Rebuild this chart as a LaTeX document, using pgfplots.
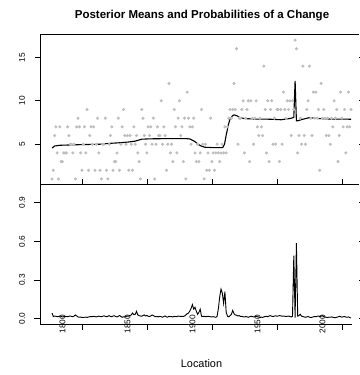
\documentclass[border=0pt]{standalone}
\usepackage{pgfplots}
\pgfplotsset{compat=1.18}
\usepackage{fontspec}
\setmainfont{Liberation Sans}
\definecolor{dotgray}{RGB}{190,190,190}

\newcommand{\ticklabfont}{\fontsize{8.3}{9}\selectfont}

\begin{document}
\begin{tikzpicture}[x=1pt,y=1pt]

% ---------- upper panel: counts and posterior means ----------
\begin{axis}[
  at={(40pt,190.5pt)}, anchor=south west,
  scale only axis, width=319pt, height=150pt,
  xmin=1782.77, xmax=2028.15, ymin=0.36, ymax=17.64,
  axis line style={draw=none},
  xtick=\empty,
  ytick={5,10,15}, yticklabels={},
  tick align=outside, major tick length=5pt,
  ytick style={black, line width=0.7pt},
  clip=false,
]
\addplot[only marks, mark=*, mark size=1.35pt, color=dotgray, mark options={draw=none, fill=dotgray}]
coordinates {
(1792,1)(1793,2)(1794,6)(1795,7)(1796,4)(1797,1)(1798,7)(1799,3)(1800,3)(1801,4)
(1802,4)(1803,4)(1804,7)(1805,6)(1806,5)(1807,5)(1808,4)(1809,5)(1810,1)(1811,7)
(1812,8)(1813,7)(1814,4)(1815,2)(1816,5)(1817,7)(1818,4)(1819,9)(1820,2)(1821,6)
(1822,7)(1823,5)(1824,7)(1825,2)(1826,5)(1827,8)(1828,4)(1829,2)(1830,1)(1831,5)
(1832,5)(1833,8)(1834,2)(1835,1)(1836,5)(1837,6)(1838,7)(1839,2)(1840,3)(1841,3)
(1842,4)(1843,8)(1844,2)(1845,5)(1846,7)(1847,9)(1848,6)(1849,5)(1850,6)(1851,2)
(1852,6)(1853,5)(1854,2)(1855,7)(1856,5)(1857,6)(1858,4)(1859,3)(1860,1)(1861,9)
(1862,8)(1863,6)(1864,5)(1865,4)(1866,7)(1867,6)(1868,7)(1869,5)(1870,8)(1871,1)
(1872,5)(1873,7)(1874,6)(1875,6)(1876,10)(1877,5)(1878,7)(1879,6)(1880,2)(1881,5)
(1882,12)(1883,4)(1884,5)(1885,3)(1886,9)(1887,7)(1888,4)(1889,8)(1890,10)(1891,6)
(1892,7)(1893,3)(1894,8)(1895,1)(1896,11)(1897,8)(1898,7)(1899,5)(1900,7)(1901,8)
(1902,4)(1903,3)(1904,5)(1905,3)(1906,4)(1907,9)(1908,5)(1909,1)(1910,5)(1911,2)
(1912,4)(1913,2)(1914,8)(1915,3)(1916,4)(1917,2)(1918,4)(1919,5)(1920,4)(1921,3)
(1922,4)(1923,5)(1924,4)(1925,7)(1926,4)(1927,7)(1928,8)(1929,9)(1930,8)(1931,9)
(1932,12)(1933,9)(1934,16)(1935,5)(1936,8)(1937,8)(1938,9)(1939,10)(1940,4)(1941,8)
(1942,9)(1943,10)(1944,3)(1945,10)(1946,8)(1947,5)(1948,8)(1949,10)(1950,7)(1951,6)
(1952,8)(1953,7)(1954,6)(1955,14)(1956,9)(1957,4)(1958,10)(1959,3)(1960,9)(1961,10)
(1962,5)(1963,8)(1964,5)(1965,9)(1966,9)(1967,3)(1968,9)(1969,5)(1970,11)(1971,9)
(1972,8)(1973,10)(1974,9)(1975,10)(1976,6)(1977,10)(1978,9)(1979,17)(1980,16)(1981,4)
(1982,6)(1983,8)(1984,5)(1985,14)(1986,6)(1987,5)(1988,9)(1989,10)(1990,14)(1991,8)
(1992,6)(1993,11)(1994,8)(1995,11)(1996,8)(1997,9)(1998,2)(1999,12)(2000,8)(2001,9)
(2002,8)(2003,6)(2004,8)(2005,6)(2006,5)(2007,8)(2008,7)(2009,10)(2010,8)(2011,9)
(2012,3)(2013,6)(2014,11)(2015,8)(2016,7)(2017,9)(2018,4)(2019,7)(2020,11)(2021,7)
(2022,9)
};
\addplot[black, line width=1.1pt] coordinates {
(1792,4.56)(1794.1,4.8)(1798.2,4.88)(1813.5,4.95)(1828.9,5.0)(1836.6,5.1)
(1845.3,5.18)(1850.5,5.25)(1855.8,5.35)(1861.2,5.58)(1867.4,5.62)(1882.8,5.65)
(1895.1,5.65)(1898.2,5.6)(1902,5.3)(1904.3,5.0)(1906.6,4.8)(1909.7,4.65)
(1917.4,4.6)(1923.3,4.6)(1924.7,5.0)(1925.8,5.9)(1927.6,7.2)(1928.9,7.9)
(1930.7,8.26)(1932,8.38)(1934.3,8.28)(1936.6,8.05)(1940.5,7.95)(1948.2,7.9)
(1959.7,7.88)(1968.2,7.82)(1975.8,7.98)(1978,8.1)(1979,12.3)(1980,7.7)
(1981,7.7)(1984.3,7.85)(1989.7,8.05)(1998.2,7.95)(2005.8,7.9)(2022,7.88)
};
\draw[line width=0.9pt] (rel axis cs:0,0) -- (rel axis cs:0,1) -- (rel axis cs:1,1);
\draw[line width=0.9pt] (rel axis cs:0,0) -- (rel axis cs:1,0);
\node[rotate=90, inner sep=0pt, font=\ticklabfont] at ([xshift=-18pt]axis cs:1782.77,5) {5};
\node[rotate=90, inner sep=0pt, font=\ticklabfont] at ([xshift=-18pt]axis cs:1782.77,10) {10};
\node[rotate=90, inner sep=0pt, font=\ticklabfont] at ([xshift=-18pt]axis cs:1782.77,15) {15};
\end{axis}

% ---------- lower panel: posterior probability of a change ----------
\begin{axis}[
  at={(40pt,51pt)}, anchor=south west,
  scale only axis, width=319pt, height=139.5pt,
  xmin=1782.77, xmax=2028.15, ymin=-0.04, ymax=1.04,
  axis line style={draw=none},
  xtick={1815.5,1865.5,1915.5,1965.5,2015.5}, xticklabels={},
  ytick={0,0.3,0.6,0.9}, yticklabels={},
  tick align=outside, major tick length=5.5pt,
  tick style={black, line width=0.7pt},
  clip=false,
]
\addplot[black, line width=0.9pt] coordinates {
(1792,0.045)(1793,0.018)(1794,0.022)(1795,0.02)(1796,0.016)(1797,0.018)(1798,0.021)(1799,0.019)(1800,0.015)(1801,0.017)
(1802,0.02)(1803,0.018)(1804,0.016)(1805,0.02)(1806,0.022)(1807,0.019)(1808,0.017)(1809,0.021)(1810,0.03)(1811,0.022)
(1812,0.015)(1813,0.012)(1814,0.014)(1815,0.011)(1816,0.01)(1817,0.012)(1818,0.013)(1819,0.011)(1820,0.014)(1821,0.016)
(1822,0.018)(1823,0.016)(1824,0.02)(1825,0.017)(1826,0.015)(1827,0.018)(1828,0.021)(1829,0.019)(1830,0.016)(1831,0.02)
(1832,0.023)(1833,0.019)(1834,0.017)(1835,0.02)(1836,0.025)(1837,0.018)(1838,0.016)(1839,0.022)(1840,0.024)(1841,0.018)
(1842,0.015)(1843,0.02)(1844,0.026)(1845,0.018)(1846,0.012)(1847,0.016)(1848,0.015)(1849,0.018)(1850,0.022)(1851,0.02)
(1852,0.026)(1853,0.03)(1854,0.045)(1855,0.032)(1856,0.035)(1857,0.058)(1858,0.03)(1859,0.025)(1860,0.022)(1861,0.02)
(1862,0.025)(1863,0.03)(1864,0.022)(1865,0.026)(1866,0.02)(1867,0.018)(1868,0.022)(1869,0.03)(1870,0.025)(1871,0.02)
(1872,0.016)(1873,0.018)(1874,0.015)(1875,0.02)(1876,0.016)(1877,0.013)(1878,0.018)(1879,0.022)(1880,0.015)(1881,0.013)
(1882,0.02)(1883,0.016)(1884,0.018)(1885,0.014)(1886,0.02)(1887,0.018)(1888,0.016)(1889,0.022)(1890,0.02)(1891,0.018)
(1892,0.02)(1893,0.018)(1894,0.022)(1895,0.03)(1896,0.04)(1897,0.045)(1898,0.06)(1899,0.08)(1900,0.11)(1901,0.075)
(1902,0.09)(1903,0.06)(1904,0.035)(1905,0.05)(1906,0.075)(1907,0.02)(1908,0.018)(1909,0.02)(1910,0.016)(1911,0.018)
(1912,0.02)(1913,0.018)(1914,0.016)(1915,0.015)(1916,0.017)(1917,0.014)(1918,0.012)(1919,0.02)(1920,0.08)(1921,0.17)
(1922,0.23)(1923,0.2)(1924,0.12)(1925,0.21)(1926,0.05)(1927,0.02)(1928,0.015)(1929,0.025)(1930,0.035)(1931,0.065)
(1932,0.04)(1933,0.03)(1934,0.028)(1935,0.022)(1936,0.025)(1937,0.018)(1938,0.02)(1939,0.016)(1940,0.014)(1941,0.018)
(1942,0.015)(1943,0.012)(1944,0.016)(1945,0.02)(1946,0.018)(1947,0.015)(1948,0.016)(1949,0.02)(1950,0.017)(1951,0.014)
(1952,0.01)(1953,0.013)(1954,0.011)(1955,0.015)(1956,0.018)(1957,0.02)(1958,0.016)(1959,0.022)(1960,0.025)(1961,0.02)
(1962,0.018)(1963,0.021)(1964,0.024)(1965,0.02)(1966,0.022)(1967,0.025)(1968,0.023)(1969,0.02)(1970,0.022)(1971,0.02)
(1972,0.018)(1973,0.02)(1974,0.022)(1975,0.018)(1976,0.015)(1977,0.02)(1978,0.49)(1979,0.01)(1980,0.587)(1981,0.02)
(1982,0.025)(1983,0.035)(1984,0.02)(1985,0.018)(1986,0.015)(1987,0.012)(1988,0.015)(1989,0.018)(1990,0.013)(1991,0.01)
(1992,0.012)(1993,0.015)(1994,0.018)(1995,0.016)(1996,0.02)(1997,0.022)(1998,0.018)(1999,0.02)(2000,0.024)(2001,0.016)
(2002,0.014)(2003,0.012)(2004,0.01)(2005,0.013)(2006,0.012)(2007,0.015)(2008,0.012)(2009,0.01)(2010,0.009)(2011,0.012)
(2012,0.015)(2013,0.02)(2014,0.017)(2015,0.013)(2016,0.016)(2017,0.018)(2018,0.014)(2019,0.012)(2020,0.015)(2021,0.01)
(2022,0.006)
};
\draw[line width=0.9pt] (rel axis cs:0,1) -- (rel axis cs:0,0) -- (axis cs:2022.5,-0.04);
\node[rotate=90, inner sep=0pt, font=\ticklabfont] at ([xshift=-18pt]axis cs:1782.77,0) {0.0};
\node[rotate=90, inner sep=0pt, font=\ticklabfont] at ([xshift=-18pt]axis cs:1782.77,0.3) {0.3};
\node[rotate=90, inner sep=0pt, font=\ticklabfont] at ([xshift=-18pt]axis cs:1782.77,0.6) {0.6};
\node[rotate=90, inner sep=0pt, font=\ticklabfont] at ([xshift=-18pt]axis cs:1782.77,0.9) {0.9};
\node[rotate=90, inner sep=0pt, font=\ticklabfont] at (axis cs:1800,-0.04) {1800};
\node[rotate=90, inner sep=0pt, font=\ticklabfont] at (axis cs:1850,-0.04) {1850};
\node[rotate=90, inner sep=0pt, font=\ticklabfont] at (axis cs:1900,-0.04) {1900};
\node[rotate=90, inner sep=0pt, font=\ticklabfont] at (axis cs:1950,-0.04) {1950};
\node[rotate=90, inner sep=0pt, font=\ticklabfont] at (axis cs:2000,-0.04) {2000};
\end{axis}

\node[anchor=base, font=\bfseries\fontsize{11.5}{13}\selectfont] at (202,356.7) {Posterior Means and Probabilities of a Change};
\node[anchor=base, font=\fontsize{10.9}{12}\selectfont] at (201.5,7.5) {Location};

\pgfresetboundingbox
\useasboundingbox (0,0) rectangle (359,375);
\end{tikzpicture}
\end{document}
